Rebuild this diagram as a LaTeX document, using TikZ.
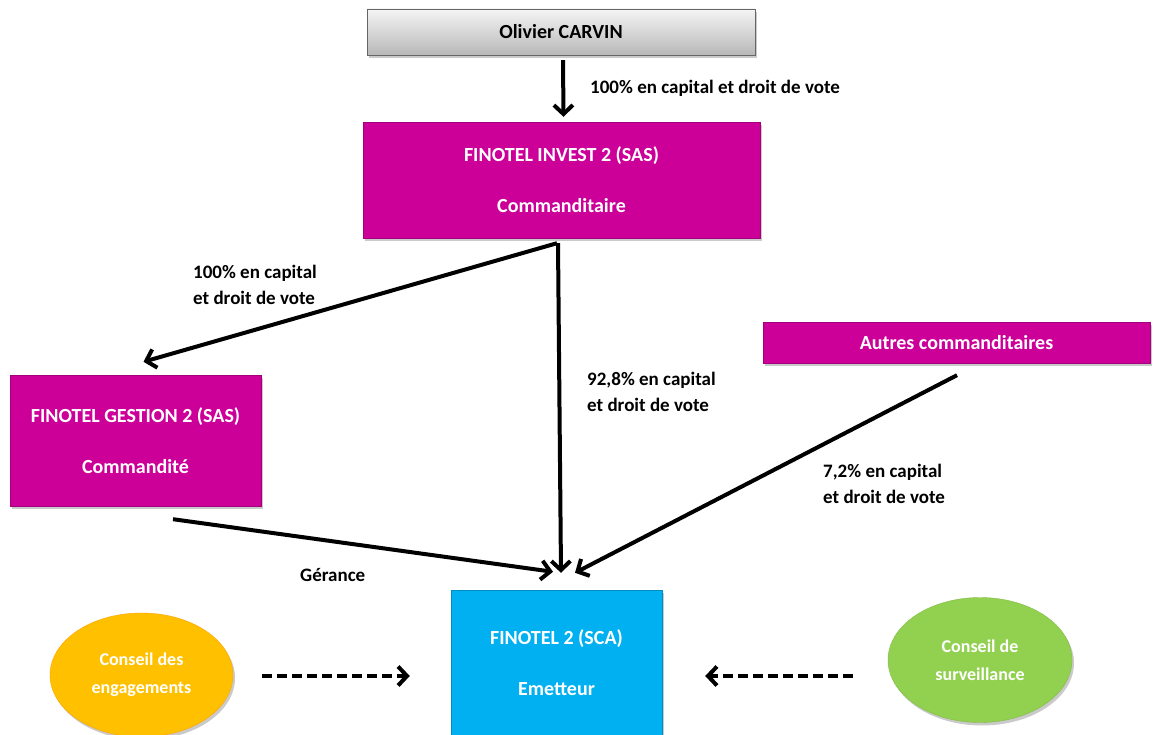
\documentclass[tikz,border=0pt]{standalone}
\usepackage{fontspec}
\setmainfont{Carlito}
\usetikzlibrary{arrows.meta,shapes.geometric,shadows}

\definecolor{finmagenta}{RGB}{204,0,153}
\definecolor{finblue}{RGB}{0,176,240}
\definecolor{finorange}{RGB}{255,192,0}
\definecolor{fingreen}{RGB}{146,208,80}

\tikzset{
    shade/.style={drop shadow={shadow xshift=2pt,shadow yshift=-3pt,opacity=0.35,fill=black!60}},
    entity/.style={rectangle,shade,inner sep=0pt,text=white,align=center,
        font=\bfseries\fontsize{20}{51}\selectfont},
    council/.style={ellipse,shade,inner sep=0pt,text=white,align=center,
        font=\bfseries\fontsize{18}{28}\selectfont},
    share/.style={anchor=west,align=left,inner sep=0pt,
        font=\bfseries\fontsize{19}{26}\selectfont},
    arr/.style={line width=4pt,-{Straight Barb[length=9pt,width=19pt,line width=4pt]}},
    darr/.style={arr,dash pattern=on 10pt off 5pt}
}

\begin{document}
\begin{tikzpicture}[x=1pt,y=-1pt]
    \useasboundingbox (0,0) rectangle (1153,735);
    % shareholders
    \node[entity,draw=black!60,text=black,top color=white!96!black,bottom color=black!28,
          minimum width=388,minimum height=46] (carvin) at (561,32) {Olivier CARVIN};
    \node[entity,fill=finmagenta,draw=finmagenta!80!black,
          minimum width=397,minimum height=116] (invest) at (561.5,180)
          {FINOTEL INVEST 2 (SAS)\\Commanditaire};
    \node[entity,fill=finmagenta,draw=finmagenta!80!black,
          minimum width=387,minimum height=41,font=\bfseries\fontsize{20}{24}\selectfont]
          (autres) at (956.5,342.5) {Autres commanditaires};
    \node[entity,fill=finmagenta,draw=finmagenta!80!black,
          minimum width=251,minimum height=131] (gestion) at (135.5,440.5)
          {FINOTEL GESTION 2 (SAS)\\Commandité};
    % issuer
    \node[entity,fill=finblue,draw=finblue!80!black,
          minimum width=211,minimum height=145] (sca) at (556.5,662.5)
          {FINOTEL 2 (SCA)\\Emetteur};
    % councils
    \node[council,fill=finorange,draw=finorange!85!red,
          minimum width=183,minimum height=124] (engage) at (141.5,675)
          {Conseil des\\engagements};
    \node[council,fill=fingreen,draw=fingreen!90!black,
          minimum width=184,minimum height=125] (surv) at (980,660)
          {Conseil de\\surveillance};

    % holdings
    \draw[arr] ([xshift=2,yshift=-5]carvin.south) -- ([xshift=2,yshift=5]invest.north);
    \draw[arr] ([xshift=-4.5,yshift=-5]invest.south) -- ([xshift=8,yshift=13]gestion.north);
    \draw[arr] ([xshift=-3.5,yshift=-5]invest.south) -- ([xshift=4.5,yshift=17]sca.north);
    \draw[arr] ([xshift=0.5,yshift=-12]autres.south) -- ([xshift=18.5,yshift=17]sca.north);
    \draw[arr] ([xshift=37.5,yshift=-13]gestion.south) -- ([xshift=-3.5,yshift=18]sca.north);
    \draw[darr] ([xshift=29,yshift=-1]engage.east) -- ([xshift=-41,yshift=-13.5]sca.west);
    \draw[darr] ([xshift=-35,yshift=-16]surv.west) -- ([xshift=43,yshift=-13.5]sca.east);

    \node[share] (lcarvin)  at (590,88)  {100\% en capital et droit de vote};
    \node[share] (lgestion) at (193,285) {100\% en capital\\et droit de vote};
    \node[share] (linvest)  at (587,392) {92,8\% en capital\\et droit de vote};
    \node[share] (lautres)  at (823,484) {7,2\% en capital\\et droit de vote};
    \node[share] (lgerance) at (300,575) {Gérance};
\end{tikzpicture}
\end{document}
